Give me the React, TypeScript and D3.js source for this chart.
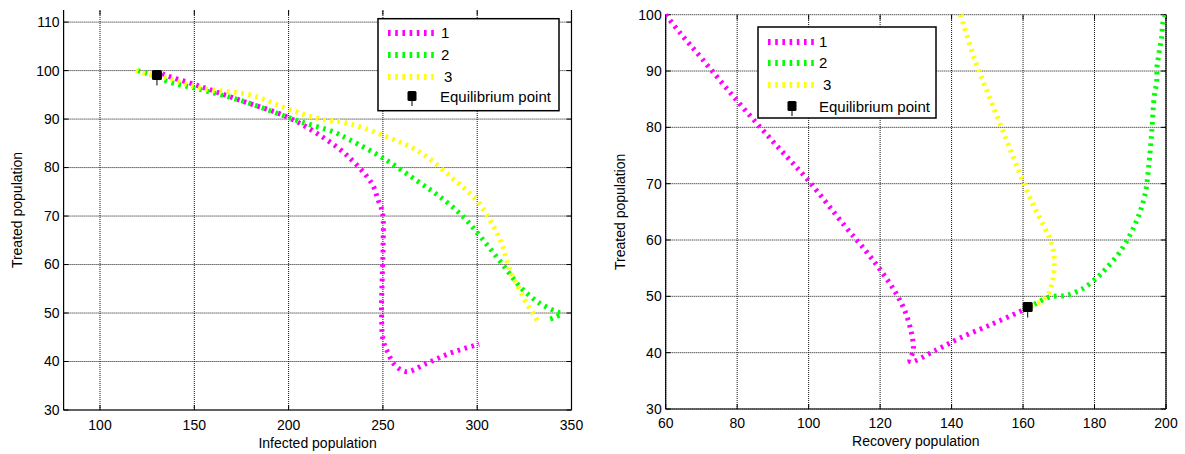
import React from 'react';
import * as d3 from 'd3';

// ---------- data ----------
const seriesLabels = ['1', '2', '3'];
const seriesColors = ['#ff00ff', '#00ff00', '#ffff00'];

const infectedTicks = [100, 150, 200, 250, 300, 350];
const treatedTicksLeft = [30, 40, 50, 60, 70, 80, 90, 100, 110];
const recoveryTicks = [60, 80, 100, 120, 140, 160, 180, 200];
const treatedTicksRight = [30, 40, 50, 60, 70, 80, 90, 100];

// Left panel: Infected (x) vs Treated (y)
const leftCurve1: [number, number][] = [
  [133, 99.4], [134.4, 99.1], [151.2, 97.0], [174.2, 93.9], [198.9, 90.5], [214.8, 87.1],
  [230.7, 82.6], [244.0, 76.8], [247.5, 73.3], [249.8, 70.6], [250.1, 63.7], [249.6, 56.8],
  [249.3, 49.9], [250.1, 44.4], [252.8, 41.7], [256.3, 39.3], [262.5, 37.9], [273.1, 39.6],
  [285.5, 41.7], [301, 43.6],
];
const leftCurve2: [number, number][] = [
  [120, 100], [130, 98.8], [136.2, 97.7], [151.2, 96.3], [174.2, 93.9], [191.8, 91.5],
  [206, 89.5], [223.6, 87.4], [232.5, 85.7], [250, 82], [268.7, 77.1], [280.2, 74.0],
  [292.5, 69.9], [303.1, 65.1], [313.7, 59.9], [323.5, 55.1], [333.2, 52.0], [342.0, 50.3],
  [344.7, 49.9], [341, 49.1], [337.5, 48.6],
];
const leftCurve3: [number, number][] = [
  [119, 100], [124.7, 99.3], [136.2, 98.4], [153, 96.4], [179.5, 95.0], [198.9, 92.2],
  [214.8, 90.2], [231.6, 89.1], [251, 86.5], [269.6, 83.2], [288.1, 77.4], [299.6, 73.3],
  [306.7, 69.2], [312.9, 64.4], [317.3, 58.9], [321.7, 55.4], [326.1, 52.0], [329.6, 49.9],
  [332.2, 48.2],
];
const leftEquilibrium: [number, number] = [130.2, 99];

// Right panel: Recovery (x) vs Treated (y)
const rightCurve1: [number, number][] = [
  [60, 100], [64, 96.8], [70, 92.3], [80, 84.7], [90, 77.5], [100, 70.5], [110, 62.6],
  [116.2, 57.9], [120.4, 54.4], [124.2, 50.8], [127, 47.3], [128.8, 43.4], [129.3, 40.5],
  [128.4, 38.4], [135.8, 40.5], [142.3, 42.6], [150.7, 44.9], [159.1, 47.3], [161.3, 48],
];
const rightCurve2: [number, number][] = [
  [161.3, 48], [163.8, 48.8], [167.5, 49.9], [172.2, 50.2], [176.8, 51.4], [181, 53.5],
  [182.9, 54.7], [187.1, 57.9], [191.3, 62.7], [194.1, 68], [195.3, 74], [196.1, 80],
  [196.7, 85.4], [197.4, 88.1], [197.5, 90.8], [198.1, 93.4], [198.8, 96.1], [199.1, 98.5],
  [199.7, 99.9],
];
const rightCurve3: [number, number][] = [
  [142.5, 100], [146.5, 92], [150.8, 85], [155.2, 78], [159.3, 71.5], [163, 66],
  [165.8, 62.5], [167.6, 60], [168.6, 57.5], [168.7, 55], [168.2, 52.6], [167.2, 50.6],
  [165, 49.1], [163.3, 48.5], [161.3, 48],
];
const rightEquilibrium: [number, number] = [161.3, 48];

const FONT = '"Liberation Sans", Arial, Helvetica, sans-serif';

type PanelProps = {
  xDomain: [number, number];
  yDomain: [number, number];
  xRange: [number, number];
  yRange: [number, number];
  xTicks: number[];
  yTicks: number[];
  curves: [number, number][][];
  eq: [number, number];
  xLabel: string;
  yLabel: string;
  xLabelY: number;
  yLabelX: number;
  tickLabelDy: number;
  legend: { x: number; y: number; w: number; h: number; rowY: number[]; lineX: [number, number]; textX: number[]; markerX: number };
};

function Panel(p: PanelProps) {
  const x = d3.scaleLinear().domain(p.xDomain).range(p.xRange);
  const y = d3.scaleLinear().domain(p.yDomain).range(p.yRange);
  const line = d3
    .line<[number, number]>()
    .x((d) => x(d[0]))
    .y((d) => y(d[1]))
    .curve(d3.curveCatmullRom.alpha(0.5));
  const [x0, x1] = p.xRange;
  const [yb, yt] = p.yRange;
  const dash = '2.6 4.6';
  const lg = p.legend;
  const cid = `clip-${Math.round(x0)}`;
  return (
    <g>
      <defs>
        <clipPath id={cid}>
          <rect x={x0} y={yt - 2} width={x1 - x0} height={yb - yt + 2} />
        </clipPath>
      </defs>
      {/* grid */}
      {p.xTicks.map((t) => (
        <line key={`gx${t}`} x1={x(t)} x2={x(t)} y1={yb} y2={yt} stroke="#111" strokeWidth={1} strokeDasharray="1 1" />
      ))}
      {p.yTicks.map((t) => (
        <line key={`gy${t}`} x1={x0} x2={x1} y1={y(t)} y2={y(t)} stroke="#111" strokeWidth={1} strokeDasharray="1 1" />
      ))}
      {/* ticks */}
      {p.xTicks.map((t) => (
        <g key={`tx${t}`}>
          <line x1={x(t)} x2={x(t)} y1={yb} y2={yb - 5} stroke="#000" />
          <line x1={x(t)} x2={x(t)} y1={yt} y2={yt + 5} stroke="#000" />
          <text x={x(t)} y={yb + p.tickLabelDy} textAnchor="middle" fontSize={14} fontFamily={FONT} fill="#000">
            {t}
          </text>
        </g>
      ))}
      {p.yTicks.map((t) => (
        <g key={`ty${t}`}>
          <line x1={x0} x2={x0 + 5} y1={y(t)} y2={y(t)} stroke="#000" />
          <line x1={x1} x2={x1 - 5} y1={y(t)} y2={y(t)} stroke="#000" />
          <text x={x0 - 4} y={y(t)} dy="0.35em" textAnchor="end" fontSize={14} fontFamily={FONT} fill="#000">
            {t}
          </text>
        </g>
      ))}
      {/* axes box */}
      <line x1={x0} x2={x1} y1={yb} y2={yb} stroke="#000" strokeWidth={1.2} />
      <line x1={x0} x2={x0} y1={yb} y2={yt} stroke="#000" strokeWidth={1.2} />
      <line x1={x1} x2={x1} y1={yb} y2={yt} stroke="#000" strokeWidth={1.2} />
      {/* curves */}
      <g clipPath={`url(#${cid})`}>
        {p.curves.map((c, i) => (
          <path key={`c${i}`} d={line(c) || ''} fill="none" stroke={seriesColors[i]} strokeWidth={5} strokeDasharray={dash} />
        ))}
      </g>
      {/* equilibrium marker */}
      <line x1={x(p.eq[0])} x2={x(p.eq[0])} y1={y(p.eq[1])} y2={y(p.eq[1]) + 10} stroke="#000" strokeWidth={1} />
      <rect x={x(p.eq[0]) - 5} y={y(p.eq[1]) - 5.5} width={10} height={10} rx={1.5} fill="#000" />
      {/* axis labels */}
      <text x={(x0 + x1) / 2} y={p.xLabelY} textAnchor="middle" fontSize={14} fontFamily={FONT} fill="#000">
        {p.xLabel}
      </text>
      <text
        transform={`translate(${p.yLabelX},${(yb + yt) / 2}) rotate(-90)`}
        textAnchor="middle"
        fontSize={14}
        fontFamily={FONT}
        fill="#000"
      >
        {p.yLabel}
      </text>
      {/* legend */}
      <rect x={lg.x} y={lg.y} width={lg.w} height={lg.h} fill="#fff" stroke="#000" strokeWidth={1.5} />
      {seriesLabels.map((s, i) => (
        <g key={`lg${i}`}>
          <line x1={lg.lineX[0]} x2={lg.lineX[1]} y1={lg.rowY[i]} y2={lg.rowY[i]} stroke={seriesColors[i]} strokeWidth={6} strokeDasharray={dash} />
          <text x={lg.textX[i]} y={lg.rowY[i]} dy="0.36em" fontSize={15} fontFamily={FONT} fill="#000">
            {s}
          </text>
        </g>
      ))}
      <line x1={lg.markerX} x2={lg.markerX} y1={lg.rowY[3]} y2={lg.rowY[3] + 9} stroke="#000" />
      <rect x={lg.markerX - 4.5} y={lg.rowY[3] - 6} width={9} height={10} rx={1.5} fill="#000" />
      <text x={lg.textX[3]} y={lg.rowY[3]} dy="0.36em" fontSize={15} fontFamily={FONT} fill="#000">
        Equilibrium point
      </text>
    </g>
  );
}

export default function App() {
  return (
    <svg width={1185} height={454} style={{ position: 'absolute', left: 0, top: 0, background: '#fff' }}>
      <rect width={1185} height={454} fill="#fff" />
      <Panel
        xDomain={[80.7, 350]}
        yDomain={[30, 112.5]}
        xRange={[63.6, 571.5]}
        yRange={[410, 10]}
        xTicks={infectedTicks}
        yTicks={treatedTicksLeft}
        curves={[leftCurve1, leftCurve2, leftCurve3]}
        eq={leftEquilibrium}
        xLabel="Infected population"
        yLabel="Treated population"
        xLabelY={448}
        yLabelX={22}
        tickLabelDy={20}
        legend={{ x: 378, y: 18.7, w: 181, h: 92, rowY: [33, 55, 77, 97], lineX: [388, 437], textX: [441, 441, 444, 440], markerX: 412 }}
      />
      <Panel
        xDomain={[60, 200]}
        yDomain={[30, 100]}
        xRange={[665.7, 1166]}
        yRange={[409, 14.7]}
        xTicks={recoveryTicks}
        yTicks={treatedTicksRight}
        curves={[rightCurve1, rightCurve2, rightCurve3]}
        eq={rightEquilibrium}
        xLabel="Recovery population"
        yLabel="Treated population"
        xLabelY={446}
        yLabelX={625}
        tickLabelDy={19}
        legend={{ x: 758, y: 27, w: 178, h: 91, rowY: [42, 63, 85, 107], lineX: [768, 815], textX: [819, 819, 823, 819], markerX: 792 }}
      />
    </svg>
  );
}
